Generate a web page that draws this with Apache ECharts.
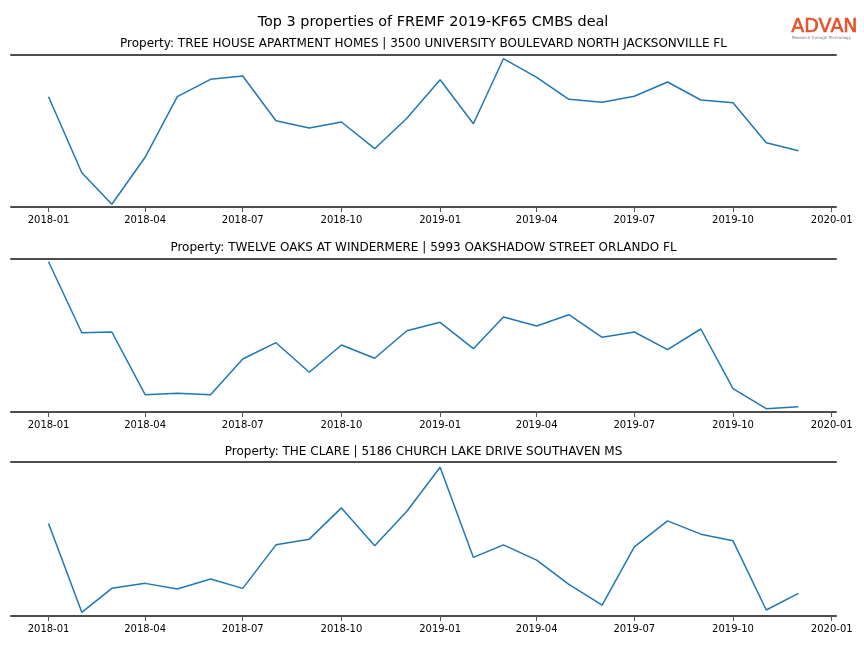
<!DOCTYPE html>
<html>
<head>
<meta charset="utf-8">
<script src="https://cdn.jsdelivr.net/npm/echarts@6/dist/echarts.min.js"></script>
<style>
html,body{margin:0;padding:0;background:#fff;}
#chart{width:864px;height:648px;}
</style>
</head>
<body>
<div id="chart"></div>
<script>
// ---- data ----
const months = ['2018-01','2018-02','2018-03','2018-04','2018-05','2018-06','2018-07','2018-08','2018-09','2018-10','2018-11','2018-12',
                '2019-01','2019-02','2019-03','2019-04','2019-05','2019-06','2019-07','2019-08','2019-09','2019-10','2019-11','2019-12'];
const tickLabels = ['2018-01','2018-04','2018-07','2018-10','2019-01','2019-04','2019-07','2019-10','2020-01'];
const mainTitle = 'Top 3 properties of FREMF 2019-KF65 CMBS deal';
const panelTitles = [
  'Property: TREE HOUSE APARTMENT HOMES | 3500 UNIVERSITY BOULEVARD NORTH JACKSONVILLE FL',
  'Property: TWELVE OAKS AT WINDERMERE | 5993 OAKSHADOW STREET ORLANDO FL',
  'Property: THE CLARE | 5186 CHURCH LAKE DRIVE SOUTHAVEN MS'
];
const treeHouse = [110.3,34.3,2.7,49.7,110.3,127.7,131,86.3,79,85,58.3,88.7,127.3,83.3,148.3,129.7,107.7,104.7,110.7,125,107,104.3,64.3,56.3];
const twelveOaks = [150.3,79.3,80,17.3,18.7,17.3,53,69.3,39.7,67,53.7,81.3,89.7,63.3,95,86,97.3,74.7,80,62.3,83,23.3,3.3,5.3];
const theClare = [92.7,3.7,27.7,32.7,27,37,27.7,71.3,77,108.3,70.3,105,149,58.7,71.3,56,31.7,11,69.3,95.3,82,75.3,6,22.7];
const yMax = [152, 153, 154.3];

// ---- helpers ----
const DAY = 86400000;
function ym(s){ const p=s.split('-'); return Date.UTC(+p[0], +p[1]-1, 1) / DAY; } // days since epoch
function pad(n){ return (n<10?'0':'')+n; }
const tickVals = tickLabels.map(ym);
const xMin = Date.UTC(2017,10,27) / DAY;
const xMax = Date.UTC(2020,0,5) / DAY;
const seriesVals = [treeHouse, twelveOaks, theClare];

const grids = [
  {left:11, right:28, top:55, height:152},
  {left:11, right:28, top:259, height:153},
  {left:11, right:28, top:462, height:154}
];
const titleTops = [33, 237, 441];

const spineColor = '#4d4d4d';
const xAxes = [], yAxes = [], series = [], titles = [];
titles.push({text: mainTitle, left: 428, top: 10, textAlign:'center',
  textStyle:{fontFamily:'DejaVu Sans', fontSize:14.4, fontWeight:'normal', color:'#000'}});
for (let i=0;i<3;i++){
  xAxes.push({
    type:'value', gridIndex:i, min:xMin, max:xMax, position:'bottom',
    axisLine:{show:true, onZero:false, lineStyle:{color:spineColor, width:2}},
    axisTick:{show:true, customValues:tickVals, length:5, lineStyle:{color:'#555', width:1}},
    axisLabel:{show:true, customValues:tickVals, margin:8, fontFamily:'DejaVu Sans', fontSize:10, color:'#000',
      formatter:function(v){ const d=new Date(Math.round(v)*DAY); return d.getUTCFullYear()+'-'+pad(d.getUTCMonth()+1); }},
    splitLine:{show:false}
  });
  xAxes.push({
    type:'value', gridIndex:i, min:0, max:1, position:'top',
    axisLine:{show:true, onZero:false, lineStyle:{color:spineColor, width:2}},
    axisTick:{show:false}, axisLabel:{show:false}, splitLine:{show:false}
  });
  yAxes.push({type:'value', gridIndex:i, min:0, max:yMax[i], show:false});
  series.push({
    type:'line', xAxisIndex:2*i, yAxisIndex:i,
    data: months.map((m,k)=>[ym(m), seriesVals[i][k]]),
    showSymbol:false, symbol:'none', lineStyle:{color:'#1f77b4', width:1.5}, itemStyle:{color:'#1f77b4'},
    animation:false
  });
  titles.push({text: panelTitles[i], left: 418.5, top: titleTops[i], textAlign:'center',
    textStyle:{fontFamily:'DejaVu Sans', fontSize:12, fontWeight:'normal', color:'#000'}});
}

const chart = echarts.init(document.getElementById('chart'), null, {renderer:'canvas'});
chart.setOption({
  backgroundColor:'#fff',
  animation:false,
  title: titles,
  grid: grids,
  xAxis: xAxes,
  yAxis: yAxes,
  series: series,
  graphic: [
    {type:'text', left:791, top:17, style:{text:'ADVAN', font:'19px "DejaVu Sans"', fill:'#e5522a', stroke:'#e5522a', lineWidth:0.6}},
    {type:'text', left:792, top:36, style:{text:'Research through Technology', font:'4px "DejaVu Sans"', fill:'#777'}}
  ]
});
</script>
</body>
</html>
